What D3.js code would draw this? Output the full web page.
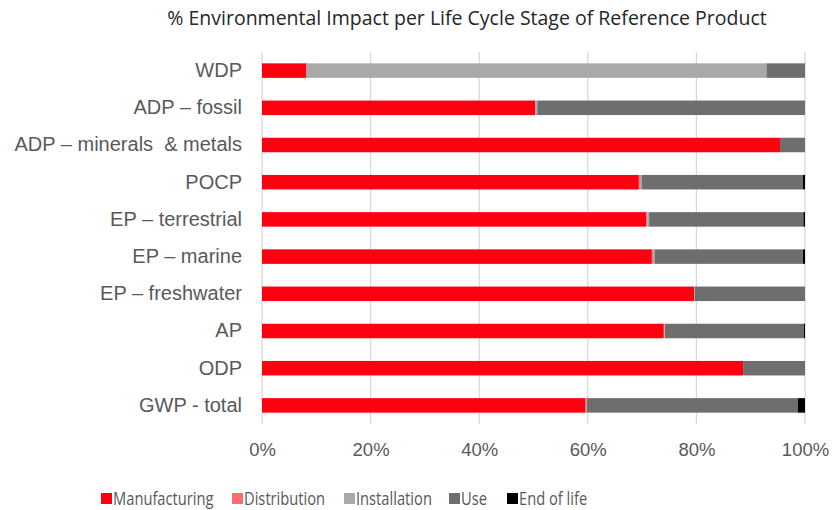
<!DOCTYPE html>
<html><head><meta charset="utf-8">
<script src="https://cdn.jsdelivr.net/npm/d3@7"></script>
<style>body{margin:0;background:#fff;} svg{display:block;font-family:"Open Sans","Noto Sans",sans-serif;} text{white-space:pre;}</style>
</head><body><div id="chart"></div>
<script>
const categories = ["WDP","ADP – fossil","ADP – minerals  & metals","POCP","EP – terrestrial","EP – marine","EP – freshwater","AP","ODP","GWP - total"];
const stages = ["Manufacturing","Distribution","Installation","Use","End of life"];
const manufacturing = [8.2, 50.3, 95.4, 69.4, 70.8, 71.8, 79.6, 74.0, 88.6, 59.6];
const distribution  = [0.0, 0.1, 0.0, 0.2, 0.2, 0.2, 0.0, 0.1, 0.0, 0.1];
const installation  = [84.7, 0.3, 0.0, 0.3, 0.3, 0.3, 0.1, 0.1, 0.0, 0.1];
const use           = [7.1, 49.3, 4.6, 29.7, 28.4, 27.3, 20.3, 25.6, 11.4, 38.9];
const endOfLife     = [0.0, 0.0, 0.0, 0.4, 0.3, 0.4, 0.0, 0.2, 0.0, 1.3];
const tickValues = [0, 20, 40, 60, 80, 100];
const colors = ["#ff0010","#ff6b73","#a9a9a9","#6e6e6e","#000000"];
const title = "% Environmental Impact per Life Cycle Stage of Reference Product";

const W = 832, H = 510;
const margin = {left: 262, right: 27, top: 52, bottom: 86};
const svg = d3.select("#chart").append("svg").attr("width", W).attr("height", H);

const series = [manufacturing, distribution, installation, use, endOfLife];
const rows = categories.map((c, i) => {
  const r = {cat: c};
  stages.forEach((s, k) => r[s] = series[k][i]);
  return r;
});
const stacked = d3.stack().keys(stages).offset(d3.stackOffsetExpand)(rows);

const x = d3.scaleLinear().domain([0, 1]).range([margin.left, W - margin.right]);
const y = d3.scaleBand().domain(categories).range([margin.top, H - margin.bottom]).paddingInner(0.61).paddingOuter(0.305);

// gridlines
svg.append("g").selectAll("line").data(tickValues).join("line")
  .attr("x1", d => x(d/100)).attr("x2", d => x(d/100))
  .attr("y1", margin.top).attr("y2", H - margin.bottom)
  .attr("stroke", "#d9d9d9").attr("stroke-width", 1.3);

// bars
svg.append("g").selectAll("g").data(stacked).join("g")
  .attr("fill", (d, i) => colors[i])
  .selectAll("rect").data(d => d).join("rect")
  .attr("x", d => x(d[0]))
  .attr("width", d => Math.max(0, x(d[1]) - x(d[0])))
  .attr("y", d => y(d.data.cat))
  .attr("height", y.bandwidth());

// x axis labels
const xAxis = d3.axisBottom(x).tickValues(tickValues.map(v => v/100)).tickFormat(d3.format(".0%")).tickSize(0).tickPadding(19);
const gx = svg.append("g").attr("transform", `translate(0,${H - margin.bottom})`).call(xAxis);
gx.select(".domain").remove();
gx.selectAll("text").attr("fill", "#595959").style("font-size", "18.5px").style("font-family", "inherit");

// y axis labels
const yAxis = d3.axisLeft(y).tickSize(0).tickPadding(20);
const gy = svg.append("g").attr("transform", `translate(${margin.left},0)`).call(yAxis);
gy.select(".domain").remove();
gy.selectAll("text").attr("fill", "#595959").style("font-size", "20px").style("font-family", "inherit");

// title
svg.append("text").attr("x", 467).attr("y", 25).attr("text-anchor", "middle")
  .attr("fill", "#262626").style("font-size", "19.5px").text(title);

// legend
const legendX = [101, 232, 344, 449, 507];
const lg = svg.append("g").selectAll("g").data(stages).join("g")
  .attr("transform", (d, i) => `translate(${legendX[i]},493)`);
lg.append("rect").attr("width", 11).attr("height", 11).attr("fill", (d, i) => colors[i]);
lg.append("text").attr("transform", "translate(12,12) scale(0.84,1)")
  .attr("fill", "#595959").style("font-size", "17.5px").text(d => d);
</script></body></html>
